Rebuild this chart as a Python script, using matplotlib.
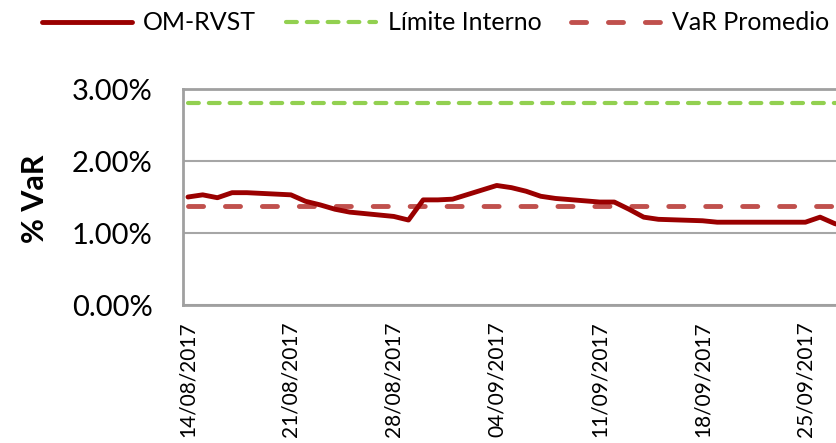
import matplotlib
matplotlib.use("Agg")
import matplotlib.pyplot as plt
import matplotlib.dates as mdates
from matplotlib.ticker import FuncFormatter
import pandas as pd

plt.rcParams['font.family'] = ['Lato', 'DejaVu Sans']

# datos (% VaR)
fechas = ["14/08/2017", "15/08/2017", "16/08/2017", "17/08/2017", "18/08/2017",
          "21/08/2017", "22/08/2017", "23/08/2017", "24/08/2017", "25/08/2017",
          "28/08/2017", "29/08/2017", "30/08/2017", "31/08/2017", "01/09/2017",
          "04/09/2017", "05/09/2017", "06/09/2017", "07/09/2017", "08/09/2017",
          "11/09/2017", "12/09/2017", "13/09/2017", "14/09/2017", "15/09/2017",
          "18/09/2017", "19/09/2017", "20/09/2017", "21/09/2017", "22/09/2017",
          "25/09/2017", "26/09/2017", "27/09/2017", "28/09/2017", "29/09/2017"]
om_rvst = [1.50, 1.53, 1.49, 1.56, 1.56,
           1.53, 1.44, 1.39, 1.33, 1.29,
           1.23, 1.18, 1.46, 1.46, 1.47,
           1.66, 1.63, 1.58, 1.51, 1.48,
           1.43, 1.43, 1.33, 1.22, 1.19,
           1.17, 1.15, 1.15, 1.15, 1.15,
           1.15, 1.22, 1.13, 1.08, 1.08]
limite_interno = 2.81
var_promedio = 1.375

fechas_tick = ["14/08/2017", "21/08/2017", "28/08/2017", "04/09/2017",
               "11/09/2017", "18/09/2017", "25/09/2017"]

x = pd.to_datetime(fechas, format="%d/%m/%Y")
xt = pd.to_datetime(fechas_tick, format="%d/%m/%Y")

fig = plt.figure(figsize=(8.37, 4.43), dpi=100)
# el area del grafico sigue a la derecha, fuera de la imagen
px_dia = 14.7
x0 = mdates.date2num(x[0]) - 0.34
x1 = mdates.date2num(x[-1]) + 0.5
ancho = (x1 - x0) * px_dia / 837
ax = fig.add_axes([183 / 837, 138 / 443, ancho, 216 / 443])

ax.plot(x, om_rvst, color='#9a0000', lw=3.5, solid_capstyle='round', label='OM-RVST', zorder=4)
ax.plot(x, [limite_interno] * len(x), color='#92d050', lw=3, ls=(0, (2.6, 2.4)),
        dash_capstyle='round', label='Límite Interno', zorder=3)
ax.plot(x, [var_promedio] * len(x), color='#c0504d', lw=3.5, ls=(0, (3.1, 4.5)),
        dash_capstyle='round', label='VaR Promedio', zorder=3)

ax.set_xlim(x0, x1)
ax.set_ylim(0, 3)
ax.set_yticks([0, 1, 2, 3])
ax.yaxis.set_major_formatter(FuncFormatter(lambda v, p: "%.2f%%" % v))
ax.set_xticks(xt)
ax.xaxis.set_major_formatter(mdates.DateFormatter('%d/%m/%Y'))
ax.tick_params(axis='y', length=0, pad=22, labelsize=21, colors='black')
ax.tick_params(axis='x', length=0, pad=12, labelsize=15, labelrotation=90)

ax.grid(axis='y', color='#a6a6a6', lw=1.5)
ax.set_axisbelow(True)
for s in ['left', 'bottom', 'top', 'right']:
    ax.spines[s].set_color('#a0a0a0')
    ax.spines[s].set_linewidth(2)

fig.text(35 / 837, 1 - 199 / 443, '% VaR', rotation=90, fontsize=22, fontweight='bold',
         ha='center', va='center')

fig.legend(loc='center left', bbox_to_anchor=(42 / 837, 1 - 23 / 443), ncol=3,
           frameon=False, fontsize=18, handlelength=3.6, handletextpad=0.45,
           columnspacing=1.2, borderpad=0, borderaxespad=0)

fig.savefig('out.png', dpi=100)
